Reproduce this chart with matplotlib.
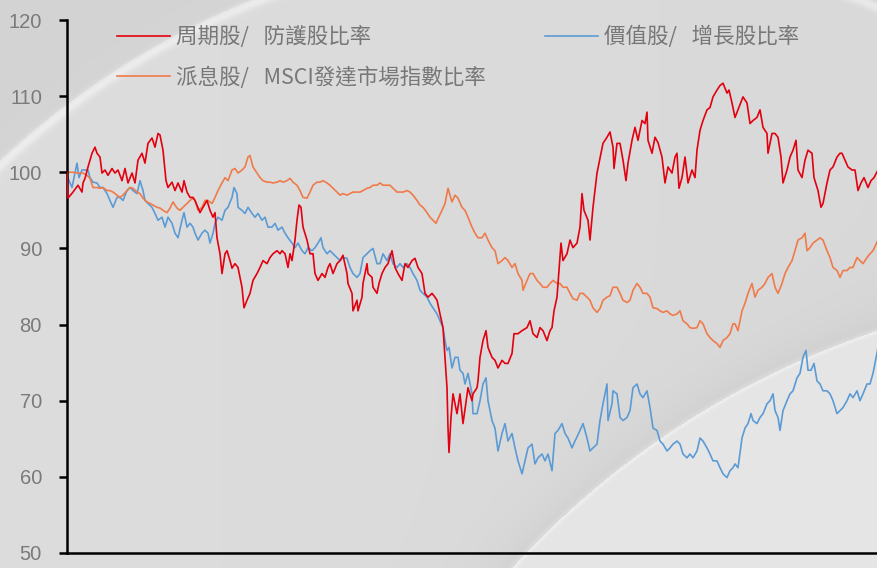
import numpy as np
import matplotlib
matplotlib.use("Agg")
import matplotlib.pyplot as plt

# 周期股/防護股比率
red_t = [0, 1, 6, 11, 15, 16, 18, 21, 25, 28, 30, 33, 35, 38, 41, 45, 48, 51, 55, 58,
         61, 65, 68, 71, 75, 78, 81, 85, 88, 91, 93, 96, 99, 101, 105, 108, 111, 115, 117, 120,
         123, 126, 128, 133, 136, 140, 143, 146, 148, 150, 153, 155, 158, 160, 163, 165, 168, 171, 175, 177,
         180, 183, 186, 190, 193, 196, 200, 203, 206, 210, 213, 215, 218, 221, 223, 225, 228, 230, 232, 234,
         236, 240, 243, 246, 248, 251, 255, 258, 261, 263, 266, 270, 273, 276, 280, 281, 285, 286, 290, 291,
         295, 296, 300, 301, 305, 306, 310, 312, 315, 318, 321, 325, 328, 331, 335, 338, 341, 345, 348, 351,
         355, 358, 361, 365, 368, 370, 373, 376, 378, 380, 381, 382, 384, 386, 390, 393, 396, 401, 405, 406,
         410, 411, 413, 416, 419, 421, 425, 428, 431, 435, 438, 441, 445, 447, 451, 455, 460, 463, 466, 470,
         473, 476, 480, 483, 485, 487, 490, 492, 494, 496, 500, 503, 506, 510, 513, 515, 517, 521, 523, 526,
         530, 536, 540, 543, 546, 547, 550, 553, 556, 559, 561, 565, 568, 571, 575, 578, 580, 581, 585, 588,
         591, 595, 598, 601, 605, 608, 610, 612, 615, 618, 621, 625, 628, 630, 633, 636, 640, 643, 646, 650,
         653, 656, 660, 662, 665, 668, 671, 676, 680, 683, 686, 690, 693, 696, 700, 701, 705, 708, 711, 714,
         716, 720, 723, 726, 729, 731, 735, 738, 741, 745, 747, 751, 754, 756, 760, 763, 766, 770, 773, 775,
         778, 781, 785, 788, 791, 794, 797, 801, 804, 807, 811]
red_v = [100.0, 96.6, 97.4, 98.3, 97.4, 98.6, 99.2, 100.7, 102.5, 103.3, 102.5, 102.0, 99.9, 100.3, 99.6, 100.5, 99.9, 100.3, 98.9, 100.5,
         98.6, 99.9, 98.6, 101.6, 102.5, 101.2, 103.8, 104.5, 103.3, 105.1, 104.9, 102.9, 98.9, 98.0, 98.7, 97.6, 98.6, 97.4, 98.9, 97.4,
         96.7, 96.7, 96.3, 94.7, 95.4, 96.3, 95.0, 94.1, 94.7, 91.4, 89.3, 86.7, 89.3, 89.7, 88.4, 87.4, 88.0, 87.5, 84.9, 82.2,
         83.2, 84.1, 85.8, 86.7, 87.5, 88.4, 88.0, 88.8, 89.3, 89.7, 89.3, 89.7, 89.3, 87.5, 89.3, 88.4, 91.1, 93.7, 95.7, 95.4,
         92.8, 91.1, 89.3, 89.3, 86.7, 85.8, 86.7, 86.2, 87.5, 88.0, 86.7, 88.0, 88.4, 89.1, 86.7, 85.4, 84.1, 81.8, 83.2, 81.8,
         83.6, 85.4, 88.0, 86.7, 86.2, 84.9, 84.1, 85.4, 86.7, 87.5, 88.0, 89.7, 87.5, 86.7, 85.8, 88.0, 87.5, 88.4, 88.7, 87.5,
         86.7, 84.1, 83.6, 84.1, 83.6, 83.2, 81.4, 79.6, 75.7, 71.7, 66.4, 63.2, 67.8, 70.9, 68.3, 70.9, 67.0, 71.7, 70.0, 70.9,
         71.7, 72.6, 75.7, 77.9, 79.2, 77.0, 75.7, 75.3, 74.3, 75.3, 74.9, 74.9, 76.2, 78.8, 78.8, 79.2, 79.6, 80.5, 78.8, 78.3,
         79.6, 79.2, 77.9, 79.2, 79.6, 81.8, 83.6, 87.1, 90.7, 88.4, 89.3, 91.1, 90.1, 90.7, 92.8, 97.2, 95.0, 93.7, 91.1, 95.4,
         99.9, 103.8, 104.6, 105.3, 103.3, 100.5, 103.8, 103.8, 101.6, 98.9, 101.2, 104.2, 105.9, 104.2, 106.8, 106.4, 107.9, 104.2, 102.5, 104.6,
         103.9, 102.0, 98.6, 100.7, 99.9, 102.0, 102.5, 97.9, 99.3, 102.0, 98.6, 100.3, 99.3, 102.9, 105.5, 106.8, 108.2, 108.5, 109.9, 110.8,
         111.4, 111.7, 110.4, 110.8, 109.1, 107.2, 108.2, 109.9, 109.1, 106.4, 106.8, 107.2, 108.2, 105.9, 105.1, 102.5, 105.1, 105.1, 104.6, 102.0,
         98.6, 100.3, 102.0, 102.9, 104.2, 100.3, 99.3, 101.6, 102.9, 102.5, 99.3, 97.6, 95.4, 95.9, 98.6, 100.3, 100.7, 102.0, 102.5, 102.5,
         101.6, 100.7, 100.3, 100.3, 97.6, 98.6, 99.3, 98.0, 98.9, 99.3, 100.3]

# 價值股/增長股比率
blue_t = [0, 1, 5, 8, 10, 12, 15, 18, 21, 23, 26, 30, 33, 36, 40, 43, 46, 50, 53, 56,
          60, 63, 66, 70, 73, 76, 78, 81, 85, 88, 91, 95, 98, 101, 105, 108, 111, 115, 117, 120,
          123, 126, 128, 131, 135, 138, 141, 143, 146, 148, 151, 155, 158, 161, 165, 167, 170, 171, 175, 178,
          181, 185, 188, 191, 195, 198, 201, 205, 208, 211, 215, 218, 221, 225, 228, 231, 235, 238, 241, 245,
          248, 251, 254, 256, 260, 263, 266, 270, 273, 276, 280, 283, 286, 290, 293, 296, 300, 303, 306, 310,
          313, 316, 320, 323, 326, 330, 333, 336, 340, 343, 346, 350, 353, 356, 360, 363, 366, 370, 373, 376,
          378, 380, 382, 385, 388, 391, 393, 396, 398, 401, 405, 406, 410, 413, 416, 419, 421, 425, 428, 431,
          435, 438, 441, 445, 448, 451, 455, 458, 461, 465, 468, 471, 475, 478, 481, 485, 488, 491, 495, 498,
          501, 505, 508, 513, 516, 520, 523, 526, 530, 533, 536, 540, 541, 545, 546, 550, 553, 556, 560, 563,
          566, 570, 573, 576, 580, 583, 586, 590, 593, 596, 600, 603, 606, 610, 613, 616, 620, 623, 626, 630,
          633, 636, 640, 643, 646, 650, 653, 656, 660, 663, 666, 668, 671, 675, 678, 681, 684, 686, 690, 693,
          696, 700, 703, 706, 708, 711, 713, 716, 720, 723, 726, 730, 733, 736, 739, 741, 744, 747, 750, 753,
          756, 760, 763, 766, 770, 773, 776, 780, 783, 786, 790, 793, 796, 800, 803, 806, 808, 811]
blue_v = [100.0, 99.2, 98.0, 99.9, 101.2, 99.3, 100.3, 100.3, 100.3, 99.3, 98.7, 98.6, 98.0, 98.0, 97.2, 96.3, 95.4, 96.7, 96.7, 96.3,
          97.6, 98.0, 97.6, 97.2, 98.9, 97.6, 96.3, 95.9, 95.4, 94.6, 93.7, 94.1, 92.8, 94.1, 93.3, 92.0, 91.4, 93.7, 94.7, 92.8,
          93.3, 92.8, 92.0, 91.1, 92.0, 92.4, 92.0, 90.7, 92.0, 93.3, 94.1, 93.7, 95.0, 95.4, 96.7, 98.0, 97.2, 95.4, 95.0, 94.6,
          95.4, 94.6, 94.1, 94.6, 93.7, 94.1, 92.8, 92.8, 93.3, 92.4, 92.8, 92.0, 91.4, 90.7, 90.1, 90.7, 89.7, 89.3, 90.1, 89.7,
          90.1, 90.7, 91.4, 90.1, 89.3, 89.7, 89.3, 88.8, 88.4, 88.8, 88.7, 87.5, 86.7, 86.2, 86.7, 88.8, 89.3, 89.7, 90.0, 88.0,
          88.0, 89.3, 88.4, 89.3, 88.0, 87.5, 88.0, 87.5, 88.0, 87.5, 86.7, 85.8, 84.5, 84.1, 83.6, 82.8, 82.2, 81.4, 80.5, 79.6,
          77.9, 76.6, 77.0, 74.3, 75.7, 75.7, 74.0, 73.6, 72.2, 73.6, 70.9, 68.3, 68.3, 70.0, 72.2, 73.0, 70.0, 67.4, 66.4, 63.4,
          65.7, 67.0, 64.7, 65.7, 63.8, 62.1, 60.4, 62.1, 63.8, 64.3, 61.7, 62.5, 63.0, 62.1, 63.0, 60.8, 65.7, 66.1, 67.0, 65.7,
          65.1, 63.8, 64.7, 66.1, 67.0, 65.1, 63.4, 63.8, 64.3, 67.4, 69.6, 72.2, 67.4, 69.6, 71.3, 70.9, 67.8, 67.4, 67.8, 68.7,
          71.7, 72.2, 70.9, 70.4, 71.3, 69.1, 66.4, 66.1, 64.7, 64.3, 63.4, 63.8, 64.3, 64.7, 64.3, 63.0, 62.5, 63.0, 62.5, 63.4,
          65.1, 64.7, 63.8, 63.0, 62.1, 62.1, 61.2, 60.4, 59.9, 60.8, 61.2, 61.7, 61.2, 65.1, 66.4, 67.0, 68.3, 67.4, 67.0, 67.8,
          68.3, 69.6, 70.0, 70.9, 68.7, 67.8, 66.1, 68.7, 70.0, 70.9, 71.3, 73.0, 73.6, 75.7, 76.6, 74.0, 74.0, 74.9, 72.6, 72.2,
          71.3, 71.3, 70.9, 70.0, 68.3, 68.7, 69.1, 70.0, 70.9, 70.4, 71.3, 70.0, 70.9, 72.2, 72.2, 73.6, 74.9, 77.0]

# 派息股/MSCI發達市場指數比率
orange_t = [0, 1, 6, 11, 16, 20, 23, 26, 30, 33, 36, 40, 43, 46, 50, 53, 56, 60, 63, 66,
            70, 73, 76, 80, 83, 86, 90, 93, 96, 100, 103, 106, 110, 113, 116, 120, 123, 126, 128, 131,
            135, 138, 141, 145, 148, 151, 155, 158, 161, 165, 168, 171, 175, 178, 181, 183, 186, 190, 193, 196,
            200, 203, 206, 210, 213, 216, 220, 223, 226, 230, 233, 236, 240, 243, 246, 250, 253, 256, 260, 263,
            266, 270, 273, 276, 280, 283, 286, 290, 293, 296, 300, 303, 306, 310, 313, 316, 320, 323, 326, 330,
            333, 336, 340, 343, 346, 350, 353, 356, 360, 363, 366, 369, 371, 375, 378, 381, 385, 388, 391, 395,
            398, 401, 405, 408, 411, 415, 418, 421, 425, 428, 431, 435, 438, 441, 445, 448, 451, 455, 456, 460,
            463, 466, 470, 473, 476, 480, 483, 486, 490, 493, 496, 500, 503, 506, 510, 513, 516, 520, 523, 526,
            530, 533, 536, 540, 543, 546, 550, 553, 556, 560, 563, 566, 570, 573, 576, 580, 583, 586, 590, 593,
            596, 600, 603, 606, 610, 613, 616, 620, 623, 626, 630, 633, 636, 640, 643, 646, 650, 653, 656, 660,
            663, 666, 668, 671, 675, 678, 681, 685, 688, 691, 695, 698, 701, 705, 708, 711, 715, 718, 721, 725,
            728, 731, 735, 738, 740, 743, 746, 750, 753, 756, 760, 763, 766, 770, 773, 776, 780, 783, 786, 790,
            793, 796, 800, 803, 806, 811]
orange_v = [100.0, 100.0, 100.0, 99.9, 99.9, 99.6, 99.2, 98.0, 98.0, 97.9, 98.0, 97.6, 97.6, 97.4, 97.0, 96.7, 97.0, 97.6, 98.0, 97.9,
            97.4, 97.2, 96.6, 96.1, 95.9, 95.7, 95.4, 95.3, 95.0, 94.7, 95.3, 96.1, 95.3, 95.0, 95.4, 95.9, 96.3, 96.6, 96.3, 95.0,
            95.4, 96.3, 96.3, 95.9, 96.7, 97.6, 98.6, 99.3, 98.9, 100.3, 100.5, 99.9, 100.3, 100.7, 102.0, 102.2, 100.7, 99.9, 99.3, 98.9,
            98.7, 98.7, 98.6, 98.7, 98.9, 98.7, 98.9, 99.2, 98.7, 98.3, 97.6, 96.7, 96.6, 97.4, 98.3, 98.7, 98.7, 98.9, 98.6, 98.3,
            97.9, 97.4, 97.0, 97.2, 97.0, 97.2, 97.4, 97.4, 97.4, 97.6, 97.9, 98.0, 98.3, 98.3, 98.6, 98.3, 98.3, 98.3, 97.9, 97.4,
            97.4, 97.4, 97.6, 97.4, 97.0, 96.3, 95.7, 95.4, 94.7, 94.1, 93.7, 93.3, 93.9, 95.0, 95.9, 97.9, 96.1, 97.0, 96.6, 95.4,
            95.0, 94.1, 92.8, 92.0, 91.4, 91.4, 92.0, 91.1, 90.1, 89.7, 88.0, 88.4, 88.8, 88.4, 87.5, 88.0, 86.7, 85.8, 84.5, 85.8,
            86.7, 86.7, 85.8, 85.4, 84.9, 84.9, 85.4, 85.8, 85.4, 85.4, 84.9, 84.9, 84.1, 83.4, 83.2, 84.1, 84.1, 83.6, 83.2, 82.2,
            81.6, 82.1, 83.2, 83.6, 83.8, 84.9, 84.9, 84.1, 83.2, 82.9, 83.2, 84.5, 85.4, 84.9, 84.1, 84.1, 83.6, 82.2, 82.1, 81.8,
            81.6, 81.8, 81.4, 81.2, 81.4, 81.8, 80.5, 80.1, 79.6, 79.5, 79.6, 80.5, 80.1, 78.8, 78.3, 77.9, 77.5, 77.0, 77.9, 78.3,
            78.8, 80.1, 80.1, 79.2, 81.8, 82.8, 84.1, 85.4, 83.6, 84.5, 84.9, 85.4, 86.2, 86.7, 84.9, 84.1, 85.4, 86.7, 87.5, 88.4,
            89.7, 91.1, 91.4, 92.0, 89.7, 90.1, 90.7, 91.1, 91.4, 91.1, 89.7, 88.8, 87.5, 87.1, 86.2, 87.1, 87.1, 87.5, 87.5, 88.8,
            88.4, 88.0, 88.8, 89.3, 89.7, 91.1]

labels = ["周期股/   防護股比率", "派息股/   MSCI發達市場指數比率", "價值股/   增長股比率"]
colors = ["#e3000f", "#f07a4a", "#5b9bd5"]
y_ticks = [50, 60, 70, 80, 90, 100, 110, 120]

plt.rcParams['font.family'] = ['Liberation Sans', 'Noto Sans CJK TC', 'DejaVu Sans']

W, H = 878, 568
fig = plt.figure(figsize=(W / 100, H / 100), dpi=100)

# background: grey with two soft curved bands
bg = fig.add_axes([0, 0, 1, 1], zorder=-5)
yy, xx = np.mgrid[0:H, 0:W]
img = np.full((H, W), 221.0) - 4.0 * (xx / W)
d1 = np.hypot(xx - 560, yy - 760) - 821
img = np.where(d1 > 0, 212.0, img)
img += 16 * np.exp(-((d1 + 4) / 5.0) ** 2)
d2 = np.hypot(xx - 1150, yy - 1150) - 864
img = np.where(d2 < 0, 229.0, img)
img -= 9 * np.exp(-np.clip(d2, 0, None) / 25.0) * (d2 > 0)
img += 10 * np.exp(-(d2 / 3.0) ** 2)
img = np.clip(img, 0, 255) / 255.0
bg.imshow(np.dstack([img, img, img]), extent=[0, W, H, 0], aspect='auto')
bg.axis('off')

ax = fig.add_axes([67 / W, 1 - 553 / H, 1 - 67 / W, (553 - 20) / H])
ax.patch.set_alpha(0)

l1, = ax.plot(red_t, red_v, color=colors[0], lw=1.2, zorder=3)
l3, = ax.plot(blue_t, blue_v, color=colors[2], lw=1.2, zorder=2)
l2, = ax.plot(orange_t, orange_v, color=colors[1], lw=1.2, zorder=2)

ax.set_xlim(0, 811)
ax.set_ylim(50, 120)
ax.set_yticks(y_ticks)
ax.set_xticks([])
for s in ['top', 'right']:
    ax.spines[s].set_visible(False)
for s in ['left', 'bottom']:
    ax.spines[s].set_linewidth(1.8)
    ax.spines[s].set_color('black')
ax.tick_params(axis='y', direction='out', length=6, width=1.8, colors='black',
               labelcolor='#7a7a7a', labelsize=14.5, pad=12)

ax.legend([l1, l2, l3], labels, ncol=2, frameon=False, loc='upper left',
          bbox_to_anchor=(117 / W, 1 - 26 / H), bbox_transform=fig.transFigure,
          prop={'family': ['Noto Sans CJK TC'], 'size': 15.5}, labelcolor='#777777',
          handlelength=2.45, handletextpad=0.3, labelspacing=0.85, columnspacing=2.75,
          borderpad=0, borderaxespad=0)

fig.savefig("out.png", dpi=100)
